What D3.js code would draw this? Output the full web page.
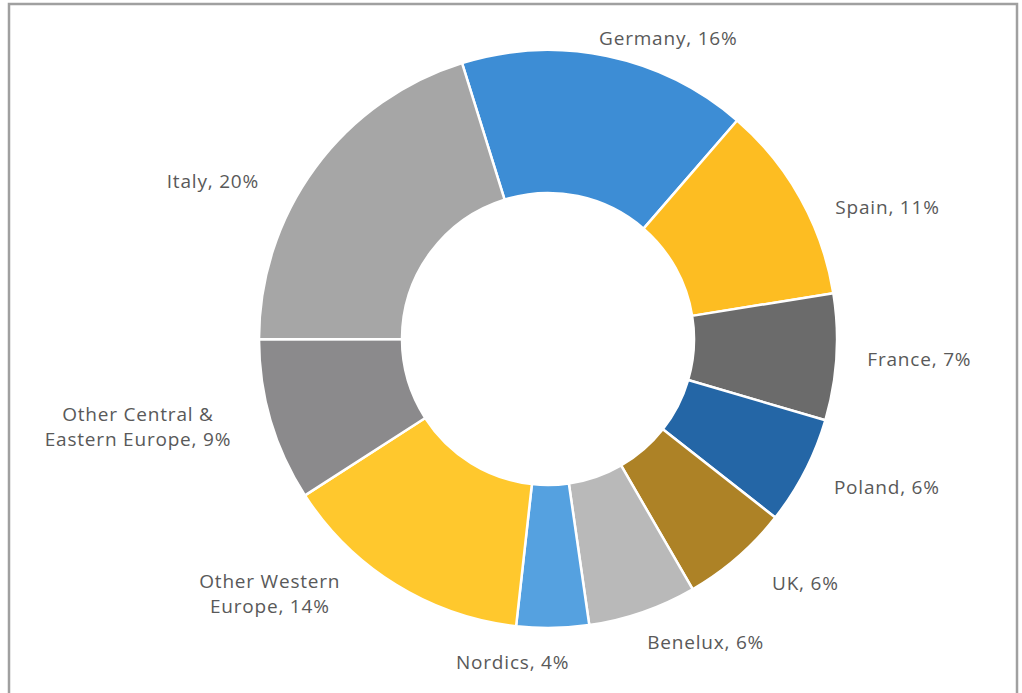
<!DOCTYPE html>
<html>
<head>
<meta charset="utf-8">
<script src="https://cdn.jsdelivr.net/npm/d3@7"></script>
<style>
  html, body { margin: 0; padding: 0; background: #fff; }
  svg { display: block; }
</style>
</head>
<body>
<svg id="chart" width="1022" height="693"></svg>
<script>
// Regional split of the total, in percent
const regions = ["Germany", "Spain", "France", "Poland", "UK", "Benelux", "Nordics",
  "Other Western Europe", "Other Central & Eastern Europe", "Italy"];
const shares = [16, 11, 7, 6, 6, 6, 4, 14, 9, 20];
const labelLines = [
  ["Germany, 16%"], ["Spain, 11%"], ["France, 7%"], ["Poland, 6%"], ["UK, 6%"],
  ["Benelux, 6%"], ["Nordics, 4%"], ["Other Western", "Europe, 14%"],
  ["Other Central &", "Eastern Europe, 9%"], ["Italy, 20%"]
];

// Styling and layout
const colors = ["#3d8dd5", "#fdbd22", "#6b6b6b", "#2466a6", "#ad8226", "#b9b9b9",
  "#55a1e0", "#ffc82d", "#8b8a8c", "#a6a6a6"];
const labelNudge = [[50, 36], [39, 36], [28, -1], [33, -9], [32, -16], [45, -22],
  [-41, -21], [-97, -38], [-80, -9], [-58, 46]];

const W = 1022, H = 693;
const cx = 548, cy = 339;
const rOuter = 289, rInner = 146, rLabel = 344;
const firstSliceAngle = -17.3 * Math.PI / 180;

const svg = d3.select("#chart");

// chart frame
svg.append("rect")
  .attr("x", 9).attr("y", 4)
  .attr("width", 1008).attr("height", 700)
  .attr("fill", "#fff")
  .attr("stroke", "#a0a0a0")
  .attr("stroke-width", 2.5);

const data = regions.map((r, i) => ({ region: r, value: shares[i], i }));

const pie = d3.pie()
  .sort(null)
  .value(d => d.value)
  .startAngle(firstSliceAngle)
  .endAngle(firstSliceAngle + 2 * Math.PI);

const arcs = pie(data);
const arc = d3.arc().innerRadius(rInner).outerRadius(rOuter);
const labelArc = d3.arc().innerRadius(rLabel).outerRadius(rLabel);

const g = svg.append("g").attr("transform", `translate(${cx},${cy})`);

g.selectAll("path.slice")
  .data(arcs)
  .join("path")
  .attr("class", "slice")
  .attr("d", arc)
  .attr("fill", d => colors[d.data.i])
  .attr("stroke", "#fff")
  .attr("stroke-width", 2.5)
  .attr("stroke-linejoin", "round");

const lineH = 25;
const labels = g.selectAll("text.lbl")
  .data(arcs)
  .join("text")
  .attr("class", "lbl")
  .attr("text-anchor", "middle")
  .attr("font-family", "'Open Sans', Lato, sans-serif")
  .attr("font-size", 19)
  .attr("letter-spacing", "0.8px")
  .attr("fill", "#595959")
  .attr("transform", d => {
    const [x, y] = labelArc.centroid(d);
    const [nx, ny] = labelNudge[d.data.i];
    return `translate(${x + nx},${y + ny})`;
  });

labels.each(function(d) {
  const lines = labelLines[d.data.i];
  const t = d3.select(this);
  const top = -(lines.length - 1) * lineH / 2;
  lines.forEach((ln, k) => {
    t.append("tspan")
      .attr("x", 0)
      .attr("y", top + k * lineH)
      .attr("dy", "0.35em")
      .text(ln);
  });
});
</script>
</body>
</html>
